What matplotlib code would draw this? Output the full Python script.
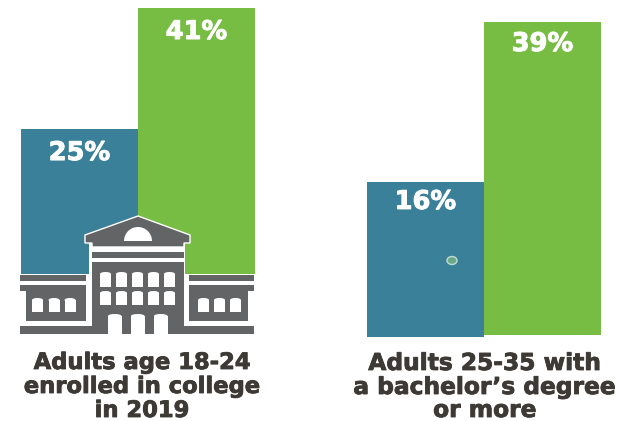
import matplotlib
matplotlib.use("Agg")
import matplotlib.pyplot as plt
import matplotlib.patheffects as pe
from matplotlib.patches import Polygon, Rectangle, Wedge, Ellipse

W, H = 621, 421
plt.rcParams['font.family'] = ['DejaVu Sans']

blue = "#3a8098"
green = "#78bd43"
grey = "#636466"
dark = "#3d3935"

left_values = [25, 41]
left_labels = ["25%", "41%"]
left_title = ["Adults age 18-24", "enrolled in college", "in 2019"]
right_values = [16, 39]
right_labels = ["16%", "39%"]
right_title = ["Adults 25-35 with", "a bachelor\u2019s degree", "or more"]
bar_colors = [blue, green]

fig = plt.figure(figsize=(W / 100, H / 100), dpi=100)


def make_axes(x0, x1, y_top, y_bottom, v_top, v_bottom):
    # axes placed in pixels, y limits are percent values
    ax = fig.add_axes([x0 / W, 1 - y_bottom / H, (x1 - x0) / W, (y_bottom - y_top) / H])
    ax.set_xlim(-0.5, 1.5)
    ax.set_ylim(v_bottom, v_top)
    ax.axis("off")
    return ax


def heavy(c, w):
    return [pe.withStroke(linewidth=w, foreground=c)]


# left group, the bars run on under the building
ax1 = make_axes(21, 255, 8, 300, 41, 2.4)
ax1.bar([0, 1], [v - 2.4 for v in left_values], bottom=2.4, width=1.0, color=bar_colors)
for i in range(2):
    ax1.annotate(left_labels[i], (i, left_values[i]), xytext=(0, -11), textcoords="offset pixels",
                 ha="center", va="top", color="white", fontsize=18.5, fontweight="bold",
                 path_effects=heavy("white", 0.7))

# right group, same idea with its own scale
ax2 = make_axes(367, 601, 22, 337, 39, -6.3)
ax2.bar([0], [right_values[0] + 6.3], bottom=-6.3, width=1.0, color=blue)
ax2.bar([1], [right_values[1] + 6.0], bottom=-6.0, width=1.0, color=green)
label_drop = [-7, -9]
for i in range(2):
    ax2.annotate(right_labels[i], (i, right_values[i]), xytext=(0, label_drop[i]), textcoords="offset pixels",
                 ha="center", va="top", color="white", fontsize=18.5, fontweight="bold",
                 path_effects=heavy("white", 0.7))

# overlay in image pixels for the building and the small dot
top = fig.add_axes([0, 0, 1, 1])
top.set_xlim(0, W)
top.set_ylim(H, 0)
top.axis("off")
top.patch.set_alpha(0)

top.add_patch(Ellipse((452, 260.5), 10, 8, fc="#6aa88a", ec="#c4dccf", lw=1))


def box(x0, y0, x1, y1, c=grey):
    top.add_patch(Rectangle((x0, y0), x1 - x0, y1 - y0, fc=c, ec="none"))


def arch(x0, y0, x1, y1):
    # white opening with a rounded top
    box(x0, y0 + 2, x1, y1, "white")
    top.add_patch(Ellipse(((x0 + x1) / 2, y0 + 2), x1 - x0, 4, fc="white", ec="none"))


# white cut-out behind the building
box(20, 274, 256, 300, "white")
box(89, 243, 185, 274, "white")

# roof
top.add_patch(Polygon([(85, 235), (138, 216), (190, 235), (190, 243), (184, 243), (184, 247),
                       (92, 247), (92, 243), (85, 243)], closed=True, fc=grey, ec="white", lw=1))
top.add_patch(Wedge((138, 241), 14, 180, 360, fc="white", ec="none"))
box(92, 252, 184, 258)
box(92, 262, 184, 334)
box(20, 326, 254, 334)

# wings
box(20, 275, 86, 281)
box(20, 285, 86, 291)
box(26, 291, 86, 321)
box(189, 275, 254, 281)
box(189, 285, 254, 291)
box(189, 291, 248, 321)

# windows and doors
for x in [100, 116, 132, 148, 164]:
    arch(x, 272, x + 11, 287)
    arch(x, 291, x + 11, 305)
for x in [32, 48.5, 64.5, 198, 214, 230]:
    arch(x, 298, x + 11, 312)
for x in [108, 131, 154]:
    arch(x, 314, x + 13.5, 334)

# captions, one text per line
left_y = [369, 393, 417]
right_y = [370, 394, 417]
for i in range(3):
    top.text(142, left_y[i], left_title[i], ha="center", va="baseline", color=dark, fontsize=16.3,
             fontweight="bold", path_effects=heavy(dark, 0.6))
    top.text(485, right_y[i], right_title[i], ha="center", va="baseline", color=dark, fontsize=16.8,
             fontweight="bold", path_effects=heavy(dark, 0.6))

fig.savefig("out.png", dpi=100)
